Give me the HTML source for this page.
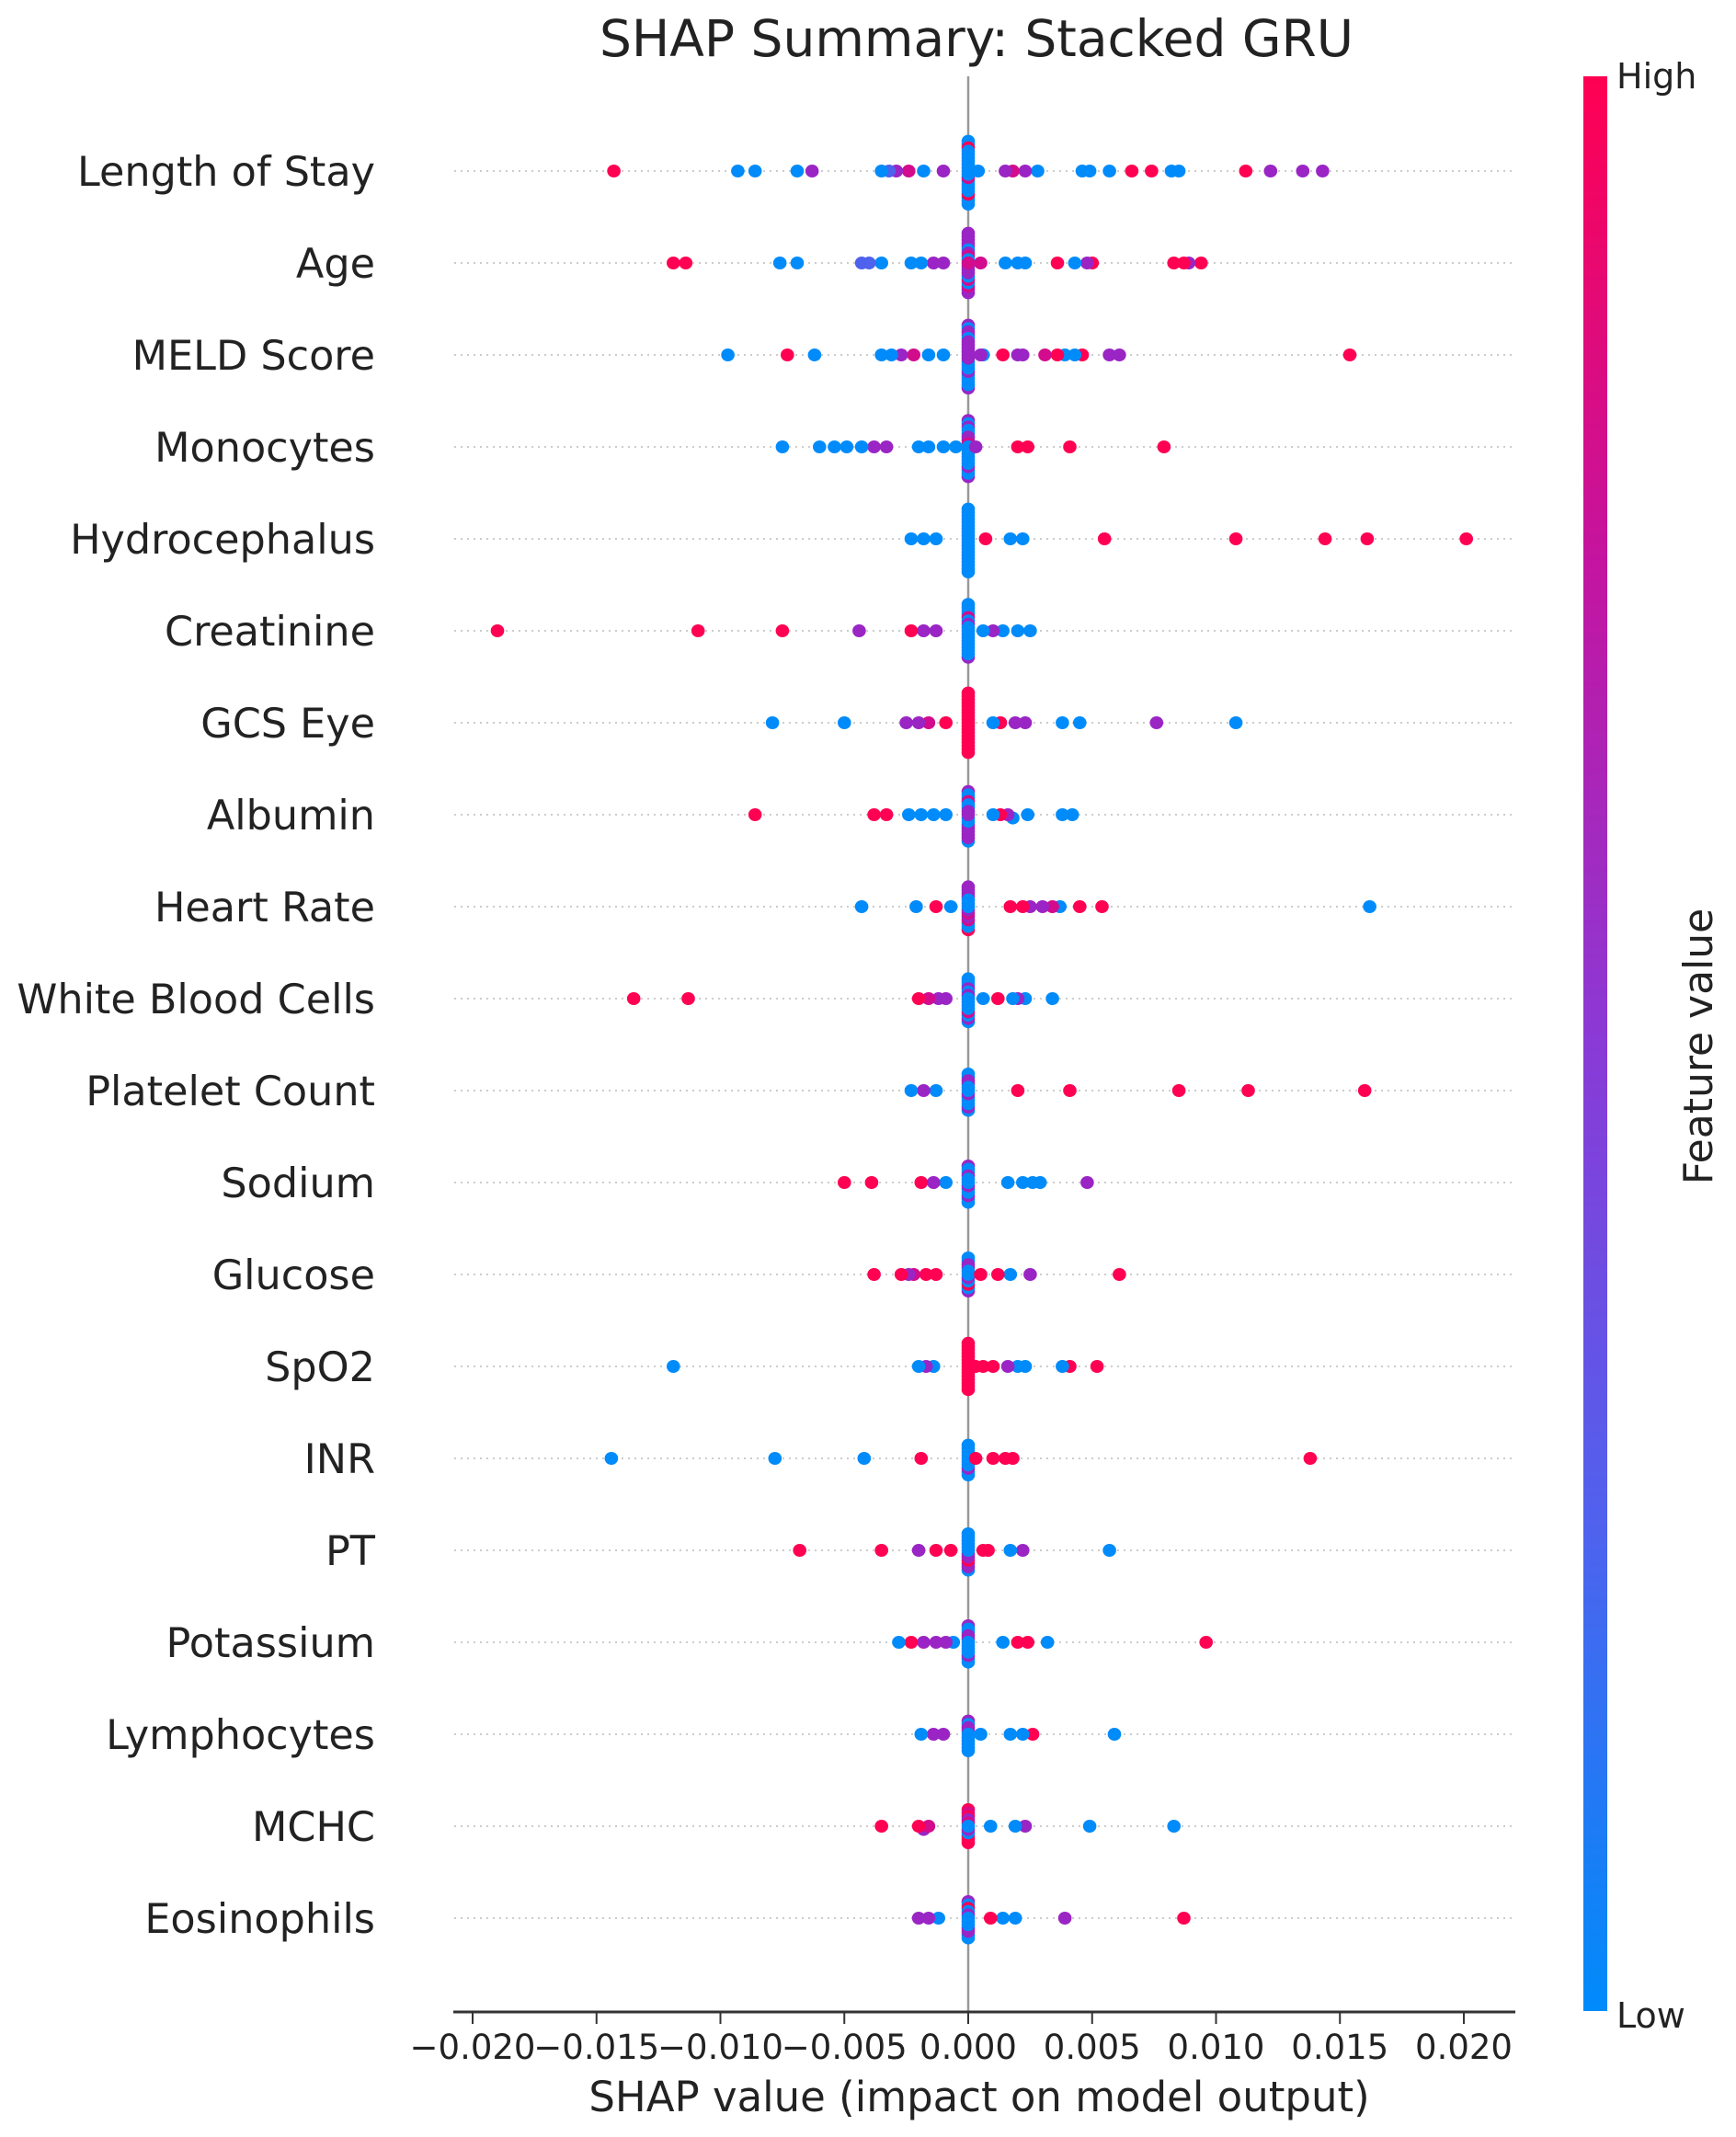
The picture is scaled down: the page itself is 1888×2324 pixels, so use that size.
<!DOCTYPE html>
<html><head><meta charset="utf-8"><style>
html,body{margin:0;padding:0;background:#fff;width:1888px;height:2324px;overflow:hidden}
svg text{font-family:"DejaVu Sans","Liberation Sans",sans-serif;fill:#222}
</style></head><body>
<svg id="chart" width="1888" height="2324" viewBox="0 0 1888 2324" xmlns="http://www.w3.org/2000/svg">
<defs><linearGradient id="cb" x1="0" y1="1" x2="0" y2="0">
<stop offset="0" stop-color="#008bfa"/><stop offset="0.25" stop-color="#4f62ee"/><stop offset="0.5" stop-color="#8a3ad6"/><stop offset="0.75" stop-color="#c4149f"/><stop offset="1" stop-color="#ff0052"/></linearGradient></defs>
<text x="1062" y="61" text-anchor="middle" font-size="55">SHAP Summary: Stacked GRU</text>
<g id="rows"></g>
<line x1="1053" y1="83" x2="1053" y2="2188" stroke="#999" stroke-width="2.5"/>
<g id="dots"></g>
<line x1="493" y1="2188" x2="1648" y2="2188" stroke="#333" stroke-width="3"/>
<g id="xticks"></g>
<text x="1065" y="2296" text-anchor="middle" font-size="45">SHAP value (impact on model output)</text>
<rect x="1722" y="83" width="26" height="2104" fill="url(#cb)"/>
<text x="1758" y="96" font-size="38">High</text>
<text x="1758" y="2205" font-size="38">Low</text>
<text transform="translate(1862,1138) rotate(-90)" text-anchor="middle" font-size="44">Feature value</text>
</svg>
<script>
const features = ["Length of Stay","Age","MELD Score","Monocytes","Hydrocephalus","Creatinine","GCS Eye","Albumin","Heart Rate","White Blood Cells","Platelet Count","Sodium","Glucose","SpO2","INR","PT","Potassium","Lymphocytes","MCHC","Eosinophils"];
const tickValues = [-0.020,-0.015,-0.010,-0.005,0,0.005,0.010,0.015,0.020];
const tickLabels = ["\u22120.020","\u22120.015","\u22120.010","\u22120.005","0.000","0.005","0.010","0.015","0.020"];
// values in units of 0.001; color codes b=low v p m r=high
const shapValues = [
 [-14.3,-9.3,-8.6,-6.9,-6.3,-3.5,-3.2,-2.9,-2.4,-1.8,-1.0,0.4,1.5,1.8,2.3,2.8,4.6,4.9,5.7,6.6,7.4,8.2,8.5,11.2,12.2,13.5,14.3],
 [-11.9,-11.4,-7.6,-6.9,-4.3,-4.0,-3.5,-2.3,-1.9,-1.4,-1.0,0.5,1.5,2.0,2.3,3.6,4.3,4.8,5.0,8.3,8.7,8.9,9.4],
 [-9.7,-7.3,-6.2,-3.5,-3.1,-2.7,-2.2,-1.6,-1.0,0.5,0.6,1.4,2.0,2.2,3.1,3.6,3.9,4.3,4.6,5.7,6.1,15.4],
 [-7.5,-6.0,-5.4,-4.9,-4.3,-3.8,-3.3,-2.0,-1.6,-1.0,-0.5,0.3,2.0,2.4,4.1,7.9],
 [-2.3,-1.8,-1.3,0.7,1.7,2.2,5.5,10.8,14.4,16.1,20.1],
 [-19.0,-10.9,-7.5,-4.4,-2.3,-1.8,-1.3,0.6,1.0,1.4,2.0,2.5],
 [-7.9,-5.0,-2.5,-2.0,-1.6,-0.9,1.0,1.3,1.9,2.3,3.8,4.5,7.6,10.8],
 [-8.6,-3.8,-3.3,-2.4,-1.9,-1.4,-0.9,1.0,1.3,1.6,1.8,2.4,3.8,4.2],
 [-4.3,-2.1,-1.3,-0.7,1.7,2.2,2.5,3.0,3.4,3.7,4.5,5.4,16.2],
 [-13.5,-11.3,-2.0,-1.6,-1.2,-0.9,0.6,1.2,1.8,2.0,2.3,3.4],
 [-2.3,-1.8,-1.3,2.0,4.1,8.5,11.3,16.0],
 [-5.0,-3.9,-1.9,-1.4,-0.9,1.6,2.2,2.6,2.9,4.8],
 [-3.8,-2.7,-2.4,-2.2,-1.7,-1.3,0.5,1.2,1.7,2.5,6.1],
 [-11.9,-2.0,-1.7,-1.4,0.3,0.6,1.0,1.6,2.0,2.3,3.8,4.1,5.2],
 [-14.4,-7.8,-4.2,-1.9,0.3,1.0,1.5,1.8,13.8],
 [-6.8,-3.5,-2.0,-1.3,-0.7,0.6,0.8,1.7,2.2,5.7],
 [-2.8,-2.3,-1.8,-1.3,-0.9,-0.6,1.4,2.0,2.4,3.2,9.6],
 [-1.9,-1.4,-1.0,0.5,1.7,2.2,2.6,5.9],
 [-3.5,-2.0,-1.8,-1.6,0.9,1.9,2.3,4.9,8.3],
 [-2.0,-1.6,-1.2,0.9,1.4,1.9,3.9,8.7]
];
const shapColors = [
 "rbbbpbvpmbpbpmpbbbbrrbbrppp",
 "rrbbvvbbbppmbbbrbprrrpr",
 "brbbbpmbbpbrppmrbbrppr",
 "bbbbbppbbbbprrrr",
 "bbbrbbrrrrr",
 "rrrprppbpbbb",
 "bbppmrbrppbbpb",
 "rrrbbbbbrpbbbb",
 "bbrbrrppmbrrb",
 "rrrmppbrbpbb",
 "bpbrrrrr",
 "rrrpbbbbbp",
 "rrpmrrrrbpr",
 "bbpbrrrpbbbrr",
 "bbbrrrrrr",
 "rrprrrrbpb",
 "brpppbbrrbr",
 "bppbbbrb",
 "rrpmbbpbb",
 "ppbrbbpr"
];
const pileColors = [
 "bbbmbbbbbbbbbrrbbbbb","mpbpmppbbmpbpmppppp","pppbpbpbppbbpbpbbbpp","bbmbpbpbbbbppbbbpp",
 "bbbbbbbbbbbbbbbbbbbb","bbbbpbbbmbbbbbbpb","rrrrrrrrrrrrrrrrrrr","pbpbbpbpmpbpbppb",
 "bpbmbppmpbpbpr","bbpbbbpmbbbpbb","bpbbpbpbbpbb","bpbbpbbpbbpb","bpbbprpbbpb","rrrrrrrrrrrrrrr",
 "bbbbbpbbbb","bpbpbrbpbpbb","bbpbpbbpbbpb","bbpbpbbbpb","bpmbprrrmrr","bbpbbprpbbpb"
];
const colorMap = {b:"#008bfa",v:"#4e62ee",p:"#9a25c4",m:"#d20c8c",r:"#ff0052"};
const NS="http://www.w3.org/2000/svg";
const x0=1053, pxPerUnit=(1595-517)/0.040;
function xScale(v){return x0+v*pxPerUnit;}
function yRow(i){return 186+100*i;}
const rowsG=document.getElementById('rows'), dotsG=document.getElementById('dots'), tG=document.getElementById('xticks');
features.forEach((f,i)=>{
  const y=yRow(i);
  const l=document.createElementNS(NS,'line');
  
  
  l.setAttribute('x1',494);l.setAttribute('x2',1644);l.setAttribute('y1',y);l.setAttribute('y2',y);
  l.setAttribute('stroke','#ccc');l.setAttribute('stroke-width','2');l.setAttribute('stroke-dasharray','2,5');
  rowsG.appendChild(l);
  const t=document.createElementNS(NS,'text');
  
  
  t.setAttribute('x',408);t.setAttribute('y',y+16);t.setAttribute('text-anchor','end');t.setAttribute('font-size','44.5');
  t.textContent=f;rowsG.appendChild(t);
  const pts=[];
  shapValues[i].forEach((v,k)=>pts.push({v:v/1000,c:shapColors[i][k]||'b'}));
  for(const c of pileColors[i]) pts.push({v:0,c:c});
  const bins={};
  pts.forEach(p=>{const b=Math.round(xScale(p.v)/7);const k=(bins[b]=(bins[b]||0)+1)-1;
    p.off=(k%2?1:-1)*Math.ceil(k/2)*3.6;});
  pts.sort((a,b)=>Math.abs(a.off)-Math.abs(b.off)).reverse();
  pts.forEach(p=>{
    const c=document.createElementNS(NS,'ellipse');
    
    
    c.setAttribute('cx',xScale(p.v).toFixed(1));c.setAttribute('cy',(y+p.off).toFixed(1));
    c.setAttribute('rx',7.3);c.setAttribute('ry',7);c.setAttribute('fill',colorMap[p.c]);
    dotsG.appendChild(c);
  });
});
tickValues.forEach((v,i)=>{
  const x=xScale(v);
  const l=document.createElementNS(NS,'line');
  
  
  l.setAttribute('x1',x);l.setAttribute('x2',x);l.setAttribute('y1',2188);l.setAttribute('y2',2201);
  l.setAttribute('stroke','#333');l.setAttribute('stroke-width','2');tG.appendChild(l);
  const t=document.createElementNS(NS,'text');
  
  
  t.setAttribute('x',x);t.setAttribute('y',2239);t.setAttribute('text-anchor','middle');t.setAttribute('font-size','37');
  t.textContent=tickLabels[i];tG.appendChild(t);
});
</script>
</body></html>
